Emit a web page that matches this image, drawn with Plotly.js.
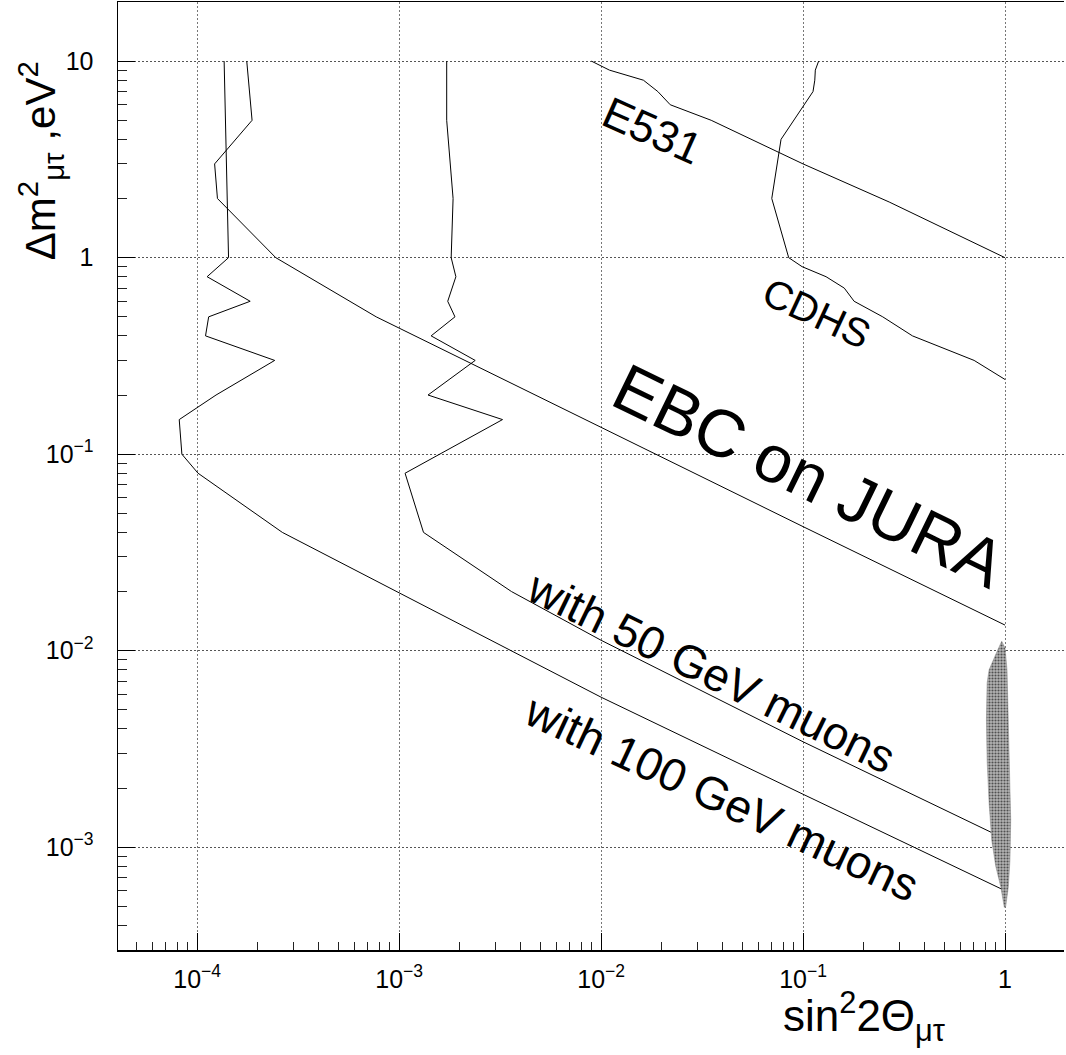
<!DOCTYPE html>
<html>
<head>
<meta charset="utf-8">
<script src="https://cdn.plot.ly/plotly-3.0.1.min.js"></script>
<style>html,body{margin:0;padding:0;background:#fff;}#chart{width:1066px;height:1055px;}</style>
</head>
<body>
<div id="chart"></div>
<script>
// ---- data (sin^2 2theta, delta m^2) ----
const muon100X = [1.36e-4, 1.43e-4, 1.12e-4, 1.83e-4, 1.14e-4, 1.10e-4, 2.42e-4, 1.24e-4, 8.15e-5, 8.4e-5, 1.01e-4, 2.64e-4, 1.0e-3, 1.0e-2, 0.1, 0.97];
const muon100Y = [10, 1, 0.8, 0.6, 0.5, 0.4, 0.3, 0.2, 0.15, 0.1, 0.08, 0.04, 0.0197, 5.8e-3, 1.86e-3, 6.1e-4];

const muon50X = [1.72e-3, 1.72e-3, 1.85e-3, 1.81e-3, 1.91e-3, 1.74e-3, 1.89e-3, 1.44e-3, 2.38e-3, 1.39e-3, 3.25e-3, 1.07e-3, 1.32e-3, 3.6e-3, 1.0e-2, 0.1, 0.95];
const muon50Y = [10, 5, 2, 1, 0.8, 0.6, 0.5, 0.4, 0.3, 0.2, 0.15, 0.08, 0.04, 0.02, 0.0113, 3.44e-3, 1.13e-3];

const ebcX = [1.76e-4, 1.87e-4, 1.22e-4, 1.26e-4, 2.45e-4, 7.7e-4, 0.1, 1.0];
const ebcY = [10, 5, 3, 2, 1, 0.5, 0.0428, 0.0135];

const e531X = [8.96e-3, 0.0110, 0.0162, 0.0191, 0.0220, 0.0351, 0.1, 0.267, 1.0];
const e531Y = [10, 9, 8, 7, 6, 5, 3, 1.92, 1.0];

const cdhsX = [0.1194, 0.115, 0.1143, 0.112, 0.0778, 0.070, 0.0849, 0.0989, 0.130, 0.160, 0.179, 0.248, 0.348, 0.703, 1.0];
const cdhsY = [10, 9, 8, 7, 4, 2, 1, 0.9, 0.8, 0.7, 0.6, 0.5, 0.4, 0.3, 0.24];

const blobX = [0.963, 1.0, 1.023, 1.039, 1.055, 1.067, 1.058, 1.039, 1.008, 0.992, 0.952, 0.900, 0.859, 0.834, 0.815, 0.809, 0.815, 0.834, 0.906, 0.963];
const blobY = [0.01117, 0.01033, 0.0080, 0.00446, 0.00248, 0.001377, 8.61e-4, 6.31e-4, 4.99e-4, 4.94e-4, 6.31e-4, 7.98e-4, 1.089e-3, 1.675e-3, 2.786e-3, 4.46e-3, 6.84e-3, 8.0e-3, 9.73e-3, 0.01117];

const curveLabels = ["E531", "CDHS", "EBC on JURA", "with 50 GeV muons", "with 100 GeV muons"];
const xTitle = "sin<sup>2</sup>2Θ<sub>μτ</sub>";
const yTitle = "Δm<sup>2</sup><sub>μτ</sub> ,eV<sup>2</sup>";

const xTickVals = [1e-4, 1e-3, 1e-2, 1e-1, 1];
const xTickText = ["10<sup>−4</sup>", "10<sup>−3</sup>", "10<sup>−2</sup>", "10<sup>−1</sup>", "1"];
const yTickVals = [1e-3, 1e-2, 1e-1, 1, 10];
const yTickText = ["10<sup>−3</sup>", "10<sup>−2</sup>", "10<sup>−1</sup>", "1", "10"];

// ---- minor tick positions (2..9 per decade) ----
function minorTicks(e0, e1) {
  const v = [];
  for (let e = e0; e <= e1; e++) for (let k = 2; k <= 9; k++) v.push(k * Math.pow(10, e));
  return v;
}

const FONT = "Liberation Sans, Arial, Helvetica, sans-serif";
const lineStyle = {color: "#000", width: 1};

const traces = [
  {x: muon100X, y: muon100Y, mode: "lines", line: lineStyle, hoverinfo: "skip"},
  {x: muon50X, y: muon50Y, mode: "lines", line: lineStyle, hoverinfo: "skip"},
  {x: ebcX, y: ebcY, mode: "lines", line: lineStyle, hoverinfo: "skip"},
  {x: e531X, y: e531Y, mode: "lines", line: lineStyle, hoverinfo: "skip"},
  {x: cdhsX, y: cdhsY, mode: "lines", line: lineStyle, hoverinfo: "skip"},
  {x: blobX, y: blobY, mode: "lines", fill: "toself", line: {color: "#888", width: 0.5},
   fillcolor: "#8c8c8c",
   fillpattern: {shape: ".", fgcolor: "#505050", bgcolor: "#b4b4b4", size: 3, solidity: 0.4},
   hoverinfo: "skip"}
];

const L = Math.log10;
function ann(text, x, y, angle, size) {
  return {text: text, x: L(x), y: L(y), xref: "x", yref: "y", showarrow: false,
          textangle: angle, xanchor: "center", yanchor: "middle",
          font: {family: FONT, size: size, color: "#000"}};
}

const annotations = [
  ann(curveLabels[0], 0.0180, 4.42, 24, 44),
  ann(curveLabels[1], 0.1164, 0.522, 25, 40),
  ann(curveLabels[2], 0.1074, 0.0782, 26, 67),
  ann(curveLabels[3], 0.0352, 7.76e-3, 26, 46),
  ann(curveLabels[4], 0.0399, 1.79e-3, 25, 46),
  {text: yTitle, xref: "paper", yref: "paper", x: -0.0825, y: 0.833, showarrow: false,
   textangle: -90, xanchor: "center", yanchor: "middle",
   font: {family: FONT, size: 42, color: "#000"}},
  {text: xTitle, xref: "paper", yref: "paper", x: 0.789, y: -0.07, showarrow: false,
   xanchor: "center", yanchor: "middle",
   font: {family: FONT, size: 44, color: "#000"}}
];

const axisCommon = {
  type: "log", showline: true, linecolor: "#000", linewidth: 1.5,
  zeroline: false, showgrid: true, gridcolor: "#555", gridwidth: 1, griddash: "2px,2px",
  ticks: "inside", ticklen: 17, tickwidth: 1, tickcolor: "#000",
  tickmode: "array",
  tickfont: {family: FONT, size: 25, color: "#000"}
};

const layout = {
  width: 1066, height: 1055,
  margin: {l: 118, r: 2, t: 2, b: 105},
  paper_bgcolor: "#fff", plot_bgcolor: "#fff",
  showlegend: false,
  xaxis: Object.assign({}, axisCommon, {
    range: [-4.392, 0.292], mirror: true, gridcolor: "#777",
    tickvals: xTickVals, ticktext: xTickText,
    ticklabelstandoff: 6,
    minor: {tickvals: minorTicks(-5, 0), ticks: "inside", ticklen: 8, tickcolor: "#222", tickwidth: 1, showgrid: false}
  }),
  yaxis: Object.assign({}, axisCommon, {
    range: [-3.523, 1.301],
    tickvals: yTickVals, ticktext: yTickText,
    ticklabelstandoff: 18,
    minor: {tickvals: minorTicks(-4, 1), ticks: "inside", ticklen: 9, tickcolor: "#222", tickwidth: 1, showgrid: false}
  }),
  annotations: annotations
};

Plotly.newPlot("chart", traces, layout, {staticPlot: true, displayModeBar: false});
</script>
</body>
</html>
